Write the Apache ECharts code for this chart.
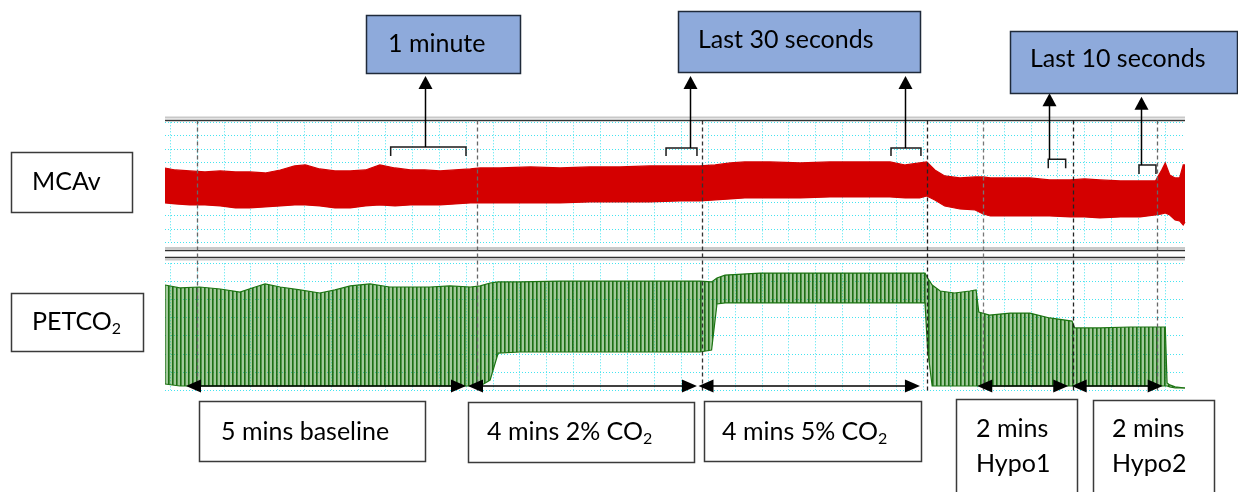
<!DOCTYPE html>
<html><head><meta charset="utf-8">
<script src="https://cdn.jsdelivr.net/npm/echarts@6/dist/echarts.min.js"></script>
<style>html,body{margin:0;padding:0;background:#fff}#c{width:1238px;height:492px}</style>
</head><body><div id="c"></div>
<script>
// Time axis in seconds (t = 0 at the first vertical grid line, one grid cell = 30 s)
const mcavTime  = [-5.6, 6, 22, 39, 56, 73, 89, 106, 123, 139, 151, 167, 184, 201, 218, 234, 251, 268, 284, 301, 318, 335, 346, 368, 402, 435, 468, 502, 535, 569, 591, 608, 625, 641, 669, 703, 736, 770, 803, 820, 836, 844, 853, 864, 881, 898, 907, 915, 937, 959, 981, 1004, 1020, 1037, 1060, 1082, 1099, 1106, 1110, 1115, 1121, 1126, 1130, 1132];
const mcavUpper = [111.5, 108.5, 107, 105.5, 107, 105.5, 105.5, 104, 108.5, 114.5, 116, 110, 107, 107, 108.5, 116, 111.5, 108.5, 108.5, 107, 108.5, 110, 111.5, 111.5, 113, 111.5, 113, 113, 114.5, 114.5, 114.5, 116, 119, 120.5, 120.5, 119, 120.5, 120.5, 120.5, 116, 119, 120.5, 108.5, 99.5, 96.5, 98, 98, 96.5, 96.5, 96.5, 93.5, 93.5, 95, 93.5, 92, 92, 92, 108.5, 119, 101, 96.5, 96.5, 116, 116];
const mcavLower = [59, 57.5, 56, 56, 54.5, 51.5, 51.5, 53, 54.5, 56, 56, 54.5, 51.5, 51.5, 54.5, 56, 54.5, 56, 56, 56, 57.5, 59, 59, 59, 59, 59, 60.5, 60.5, 60.5, 62, 62, 63.5, 65, 66.5, 66.5, 66.5, 68, 68, 68, 66.5, 66.5, 69.5, 63.5, 54.5, 50, 48.5, 42.5, 39.5, 39.5, 39.5, 39.5, 38, 38, 36.5, 38, 38, 41, 42.5, 44, 41, 33.5, 32, 26, 30.5];

const petTime  = [-5.6, 11, 33, 56, 78, 95, 106, 123, 145, 167, 184, 201, 223, 245, 268, 290, 312, 335, 346, 357, 366, 390, 435, 480, 524, 569, 591, 604, 610, 619, 658, 703, 758, 814, 842, 845, 850, 859, 875, 892, 899, 902, 914, 937, 959, 981, 1006, 1009, 1037, 1071, 1104, 1110, 1112, 1115, 1121, 1132];
const petUpper = [58.0, 56.4, 56.9, 55.8, 54.1, 56.9, 58.6, 56.9, 55.3, 53.6, 55.3, 57.5, 58.6, 56.9, 56.9, 56.9, 57.5, 56.9, 57.5, 59.1, 59.7, 59.7, 60.2, 60.2, 60.2, 60.2, 60.2, 59.7, 61.9, 63.5, 64.6, 64.6, 64.6, 64.6, 64.6, 61.9, 58.0, 54.7, 53.6, 54.7, 55.3, 43.1, 41.4, 42.5, 42.5, 39.8, 38.1, 34.3, 34.3, 34.8, 34.8, 34.8, 3.9, 2.8, 1.7, 1.1];
const petLower = [3.3, 2.2, 2.2, 2.2, 2.2, 2.2, 2.2, 2.2, 2.2, 2.2, 2.2, 2.2, 2.2, 2.2, 2.2, 2.2, 2.2, 2.2, 2.2, 5.5, 20.4, 21.0, 21.0, 21.0, 21.0, 21.0, 21.0, 22.1, 47.5, 48.1, 48.1, 48.1, 48.1, 48.1, 48.1, 22.1, 2.2, 2.2, 2.2, 2.2, 2.2, 2.2, 2.2, 2.2, 2.2, 2.2, 2.2, 2.2, 2.2, 2.2, 2.2, 2.2, 2.2, 1.7, 1.1, 1.1];

const eventTimes = [29.8, 342.0, 593.3, 844.2, 906.7, 1007.4, 1100.4];
const phaseStart = [17.8, 332.3, 589.4, 900.3, 1005.6];
const phaseEnd   = [330.1, 587.7, 836.4, 1001.8, 1107.1];
const windowStart = [246.1, 553.2, 804.1, 979.5, 1080.7];
const windowEnd   = [330.1, 587.7, 837.5, 998.9, 1099.6];
const windowArrow = [284.4, 579.9, 819.7, 980.3, 1082.6];
const gridTimes = [];
for (let t = 0; t <= 1110; t += 30) gridTimes.push(t);

// ---- styling / layout (not data) ----
const FONT = 'Lato';
const FS = 25;
const eventColors = ['#666', '#666', '#333', '#222', '#777', '#222', '#666'];
const windowLayout = [
  {by: 147, drop: 9, tip: 76}, {by: 148, drop: 8, tip: 76}, {by: 148, drop: 8, tip: 76},
  {by: 159.3, drop: 9, tip: 93.3}, {by: 165, drop: 9, tip: 96.7}
];
const ARROW_LEVEL = 2.2; // PETCO2 axis level of the phase arrows

function stripe() {
  const c = document.createElement('canvas');
  c.width = 4; c.height = 8;
  const g = c.getContext('2d');
  g.fillStyle = 'rgba(70,150,55,0.5)'; g.fillRect(0, 0, 4, 8);
  g.fillStyle = '#1d6f14'; g.fillRect(0, 0, 1.6, 8);
  return c;
}
const stripeFill = {image: stripe(), repeat: 'repeat'};

function band(gi, times, upper, lower, fill, stroke, z) {
  return {
    type: 'custom', coordinateSystem: 'cartesian2d', xAxisIndex: gi, yAxisIndex: gi, silent: true, z: z,
    data: [[times[1], upper[1]]],
    renderItem: function (params, api) {
      const up = times.map((t, i) => api.coord([t, upper[i]]));
      const lo = times.map((t, i) => api.coord([t, lower[i]]));
      return {type: 'group', children: [
        {type: 'polygon', shape: {points: up.concat(lo.slice().reverse())}, style: {fill: fill, stroke: null}},
        {type: 'polyline', shape: {points: up}, style: {stroke: stroke, lineWidth: 1.2, fill: null}},
        {type: 'polyline', shape: {points: lo}, style: {stroke: stroke, lineWidth: 1.2, fill: null}}
      ]};
    }
  };
}

const xBase = {type: 'value', min: -5.6, max: 1132, axisLine: {show: false}, axisLabel: {show: false},
  axisTick: {show: false, customValues: gridTimes}};
const cyan = {color: '#44e4f0', type: [1, 2], width: 1};

const option = {
  animation: false,
  grid: [
    {left: 165, width: 1020, top: 122.3, height: 120},
    {left: 165, width: 1020, top: 263.3, height: 126.7},
    {left: 165, width: 1020, top: 120.5, height: 271.5}
  ],
  xAxis: [
    Object.assign({}, xBase, {gridIndex: 0, splitLine: {show: true, lineStyle: cyan}}),
    Object.assign({}, xBase, {gridIndex: 1, splitLine: {show: true, lineStyle: cyan}}),
    Object.assign({}, xBase, {gridIndex: 2, splitLine: {show: false}})
  ],
  yAxis: [
    {type: 'value', gridIndex: 0, min: 0, max: 180, interval: 20, axisLine: {show: false}, axisLabel: {show: false}, axisTick: {show: false}, splitLine: {show: true, lineStyle: cyan}},
    {type: 'value', gridIndex: 1, min: 0, max: 70, interval: 10, axisLine: {show: false}, axisLabel: {show: false}, axisTick: {show: false}, splitLine: {show: true, lineStyle: cyan}},
    {type: 'value', gridIndex: 2, min: 0, max: 1, axisLine: {show: false}, axisLabel: {show: false}, axisTick: {show: false}, splitLine: {show: false}}
  ],
  series: [
    band(0, mcavTime, mcavUpper, mcavLower, '#d40000', '#d40000', 2),
    band(1, petTime, petUpper, petLower, stripeFill, '#1c7412', 2),
    {
      type: 'custom', coordinateSystem: 'cartesian2d', xAxisIndex: 2, yAxisIndex: 2, silent: true, z: 5,
      data: eventTimes.map(t => [t, 0.5]),
      renderItem: function (params, api) {
        const x = Math.round(api.coord([api.value(0), 0])[0]) + 0.5;
        const y0 = api.coord([0, 1])[1], y1 = api.coord([0, 0])[1];
        return {type: 'line', shape: {x1: x, y1: y0, x2: x, y2: y1},
          style: {stroke: eventColors[params.dataIndex], lineWidth: 1.3, lineDash: [4, 3]}};
      }
    },
    {
      type: 'custom', coordinateSystem: 'cartesian2d', xAxisIndex: 1, yAxisIndex: 1, silent: true, z: 6,
      data: phaseStart.map((s, i) => [s, ARROW_LEVEL, phaseEnd[i]]),
      renderItem: function (params, api) {
        const a = api.coord([api.value(0), api.value(1)]);
        const b = api.coord([api.value(2), api.value(1)]);
        const y = a[1], L = 15, H = 6.5;
        return {type: 'group', children: [
          {type: 'line', shape: {x1: a[0] + L - 1, y1: y, x2: b[0] - L + 1, y2: y}, style: {stroke: '#000', lineWidth: 1.5}},
          {type: 'polygon', shape: {points: [[a[0], y], [a[0] + L, y - H], [a[0] + L, y + H]]}, style: {fill: '#000'}},
          {type: 'polygon', shape: {points: [[b[0], y], [b[0] - L, y - H], [b[0] - L, y + H]]}, style: {fill: '#000'}}
        ]};
      }
    },
    {
      type: 'custom', coordinateSystem: 'cartesian2d', xAxisIndex: 0, yAxisIndex: 0, silent: true, z: 6,
      data: windowStart.map((s, i) => [s, 170, windowEnd[i], windowArrow[i]]),
      renderItem: function (params, api) {
        const lay = windowLayout[params.dataIndex];
        const xs = api.coord([api.value(0), 0])[0];
        const xe = api.coord([api.value(2), 0])[0];
        const xa = Math.round(api.coord([api.value(3), 0])[0]) + 0.5;
        const st = {stroke: '#1a1a1a', lineWidth: 1.5, fill: null};
        return {type: 'group', children: [
          {type: 'polyline', shape: {points: [[xs, lay.by + lay.drop], [xs, lay.by], [xe, lay.by], [xe, lay.by + lay.drop]]}, style: st},
          {type: 'line', shape: {x1: xa, y1: lay.by, x2: xa, y2: lay.tip + 12}, style: {stroke: '#000', lineWidth: 1.5}},
          {type: 'polygon', shape: {points: [[xa, lay.tip], [xa - 7, lay.tip + 13], [xa + 7, lay.tip + 13]]}, style: {fill: '#000'}}
        ]};
      }
    }
  ],
  graphic: []
};

// frame lines (style)
const frames = [
  [117.5, '#c8c8c8', 2], [120.5, '#333', 1.5],
  [248, '#c8c8c8', 2], [250.5, '#333', 1.5],
  [257.5, '#333', 1.5], [259.5, '#c8c8c8', 2]
];
frames.forEach(f => option.graphic.push({type: 'line', z: 3, silent: true,
  shape: {x1: 165, y1: f[0], x2: 1185, y2: f[0]}, style: {stroke: f[1], lineWidth: f[2]}}));

// text boxes (annotation layout)
const rich = {n: {fontSize: FS, fontFamily: FONT, lineHeight: 30, fill: '#000'},
              s: {fontSize: 16, fontFamily: FONT, lineHeight: 16, verticalAlign: 'bottom', fill: '#000'}};
const boxes = [
  {x: 11, y: 152, w: 121, h: 60, fill: '#fff', text: '{n|MCAv}', tx: 32, ty: 182},
  {x: 11, y: 293, w: 132, h: 58, fill: '#fff', text: '{n|PETCO}{s|2}', tx: 32, ty: 322},
  {x: 366, y: 15, w: 154, h: 58, fill: '#8eaadb', text: '{n|1 minute}', tx: 388, ty: 44},
  {x: 678, y: 11, w: 242, h: 61, fill: '#8eaadb', text: '{n|Last 30 seconds}', tx: 698, ty: 40},
  {x: 1010, y: 31, w: 227, h: 62, fill: '#8eaadb', text: '{n|Last 10 seconds}', tx: 1030, ty: 59},
  {x: 199, y: 401, w: 226, h: 60, fill: '#fff', text: '{n|5 mins baseline}', tx: 221, ty: 432},
  {x: 468, y: 402, w: 226, h: 60, fill: '#fff', text: '{n|4 mins 2% CO}{s|2}', tx: 487, ty: 432},
  {x: 704, y: 401, w: 217, h: 60, fill: '#fff', text: '{n|4 mins 5% CO}{s|2}', tx: 722, ty: 432},
  {x: 956, y: 399, w: 121, h: 110, fill: '#fff', text: '{n|2 mins}\n{n|Hypo1}', tx: 976, ty: 446, lh: 35},
  {x: 1093, y: 400, w: 121, h: 110, fill: '#fff', text: '{n|2 mins}\n{n|Hypo2}', tx: 1112, ty: 446, lh: 35}
];
boxes.forEach(b => {
  option.graphic.push({type: 'rect', z: 20, silent: true, shape: {x: b.x + 0.5, y: b.y + 0.5, width: b.w, height: b.h},
    style: {fill: b.fill, stroke: b.fill === '#fff' ? '#3a3a3a' : '#1f2a3a', lineWidth: 1.5}});
  const r = b.lh ? {n: Object.assign({}, rich.n, {lineHeight: b.lh}), s: rich.s} : rich;
  option.graphic.push({type: 'text', z: 21, silent: true, x: b.tx, y: b.ty,
    style: {text: b.text, rich: r, align: 'left', verticalAlign: 'middle', fontSize: FS, fontFamily: FONT, fill: '#000'}});
});

const chart = echarts.init(document.getElementById('c'), null, {renderer: 'canvas'});
chart.setOption(option);
</script></body></html>
